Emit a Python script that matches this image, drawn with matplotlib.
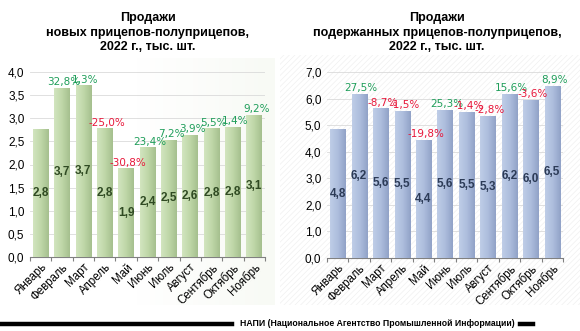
import numpy as np
import matplotlib
matplotlib.use("Agg")
import matplotlib.pyplot as plt
import matplotlib.transforms as mtransforms
from matplotlib.colors import LinearSegmentedColormap
from matplotlib.patches import Rectangle

plt.rcParams['font.family'] = ['Liberation Sans', 'DejaVu Sans']
plt.rcParams['hatch.linewidth'] = 0.5

months = ["Январь", "Февраль", "Март", "Апрель", "Май", "Июнь",
          "Июль", "Август", "Сентябрь", "Октябрь", "Ноябрь"]

new_sales = [2.76, 3.66, 3.71, 2.78, 1.92, 2.37, 2.54, 2.64, 2.78, 2.82, 3.08]
new_change = [None, 32.8, 1.3, -25.0, -30.8, 23.4, 7.2, 3.9, 5.5, 1.4, 9.2]

used_sales = [4.84, 6.17, 5.63, 5.54, 4.44, 5.57, 5.49, 5.34, 6.17, 5.96, 6.49]
used_change = [None, 27.5, -8.7, -1.5, -19.8, 25.3, -1.4, -2.8, 15.6, -3.6, 8.9]

new_title = "Продажи\nновых прицепов-полуприцепов,\n2022 г., тыс. шт."
used_title = "Продажи\nподержанных прицепов-полуприцепов,\n2022 г., тыс. шт."

new_ticks = [0.0, 0.5, 1.0, 1.5, 2.0, 2.5, 3.0, 3.5, 4.0]
used_ticks = [0.0, 1.0, 2.0, 3.0, 4.0, 5.0, 6.0, 7.0]

footer = "НАПИ (Национальное Агентство Промышленной Информации)"

GREEN_PCT = "#1f9e5a"
RED_PCT = "#e8173a"


def fmt(v):
    return f"{v:.1f}".replace(".", ",")


def draw_panel(ax, values, changes, ticks, title, title_x, cmap, width, val_color):
    x = np.arange(len(values))
    bars = ax.bar(x, values, width=width, color="none", edgecolor="none", zorder=3)
    grad = np.linspace(0, 1, 64).reshape(1, -1)
    for b in bars:
        x0, y0 = b.get_x(), b.get_y()
        w, h = b.get_width(), b.get_height()
        im = ax.imshow(grad, cmap=cmap, aspect="auto",
                       extent=(x0, x0 + w, y0, y0 + h), zorder=3)
        im.set_clip_path(b)
    ax.set_xlim(-0.5, len(values) - 0.5)
    ax.set_ylim(ticks[0], ticks[-1])
    ax.set_yticks(ticks)
    ax.set_yticklabels([fmt(t) for t in ticks], fontsize=8.5)
    ax.set_xticks(x)
    ax.set_xticklabels(months, rotation=45, ha="right", va="top",
                       rotation_mode="anchor", fontsize=8.3)
    shift = mtransforms.ScaledTranslation(5 / 72, -2 / 72, ax.figure.dpi_scale_trans)
    for lab in ax.get_xticklabels():
        lab.set_transform(lab.get_transform() + shift)
    ax.tick_params(axis="x", length=0, pad=3)
    ax.tick_params(axis="y", length=0, pad=4)
    ax.set_xticks(np.arange(len(values) + 1) - 0.5, minor=True)
    ax.tick_params(axis="x", which="minor", length=3, color="#808080", width=0.8)
    ax.grid(axis="y", color="#dadada", linewidth=0.6, zorder=0)
    for s in ["top", "right", "left"]:
        ax.spines[s].set_visible(False)
    ax.spines["bottom"].set_color("#808080")
    ax.spines["bottom"].set_linewidth(0.8)
    ax.set_facecolor("none")

    for xi, v, c in zip(x, values, changes):
        ax.text(xi, v / 2, fmt(v), ha="center", va="center", fontsize=8.5,
                fontweight="bold", color=val_color, zorder=5)
        if c is not None:
            col = GREEN_PCT if c >= 0 else RED_PCT
            ax.annotate(fmt(c) + "%", (xi, v), xytext=(1.5, 0.5),
                        textcoords="offset points", ha="center", va="bottom",
                        fontsize=7.5, color=col, family="DejaVu Sans", zorder=6)

    ax.figure.text(title_x, 1 - 12 / 331, title, ha="center", va="top", fontsize=9,
                   fontweight="bold", linespacing=1.3)


fig = plt.figure(figsize=(5.8, 3.31), dpi=100)

# faint panel backgrounds
bg_left = fig.add_axes([0.0, 0.08, 275 / 580, 1 - 58 / 331 - 0.08], zorder=-2)
bg_left.imshow(np.linspace(0, 1, 64).reshape(1, -1), aspect="auto",
               cmap=LinearSegmentedColormap.from_list("bgl", ["#ffffff", "#ffffff", "#f8faf5"]),
               extent=(0, 1, 0, 1))
bg_left.axis("off")
bg_right = fig.add_axes([280 / 580, 0.08, 300 / 580, 1 - 55 / 331 - 0.08], zorder=-2)
bg_right.axis("off")
bg_right.add_patch(Rectangle((0, 0), 1, 1, transform=bg_right.transAxes,
                             facecolor="white", edgecolor="#f0f0f0",
                             hatch="//////", linewidth=0))

green_cmap = LinearSegmentedColormap.from_list("g", ["#d2e5bf", "#bfd7a8", "#a5bf8e"])
blue_cmap = LinearSegmentedColormap.from_list("b", ["#bfcde7", "#adbddd", "#91a2c7"])

ax1 = fig.add_axes([30 / 580, 1 - 257 / 331, 235 / 580, 185 / 331])
draw_panel(ax1, new_sales, new_change, new_ticks, new_title, 148 / 580,
           green_cmap, 0.74, "#2f4a22")

ax2 = fig.add_axes([327 / 580, 1 - 258 / 331, 236 / 580, 186 / 331])
draw_panel(ax2, used_sales, used_change, used_ticks, used_title, 437 / 580,
           blue_cmap, 0.70, "#2c3b57")

# footer
fy = 7 / 331
fig.add_artist(plt.Line2D([0, 232 / 580], [fy, fy], color="black", linewidth=3.2,
                          transform=fig.transFigure))
fig.add_artist(plt.Line2D([520 / 580, 533 / 580], [fy, fy], color="black", linewidth=3.2,
                          transform=fig.transFigure))
fig.text(377 / 580, fy, footer, ha="center", va="center", fontsize=6.2,
         fontweight="bold", family=["Liberation Sans Narrow", "Liberation Sans", "DejaVu Sans"])

fig.savefig("out.png", dpi=100)
